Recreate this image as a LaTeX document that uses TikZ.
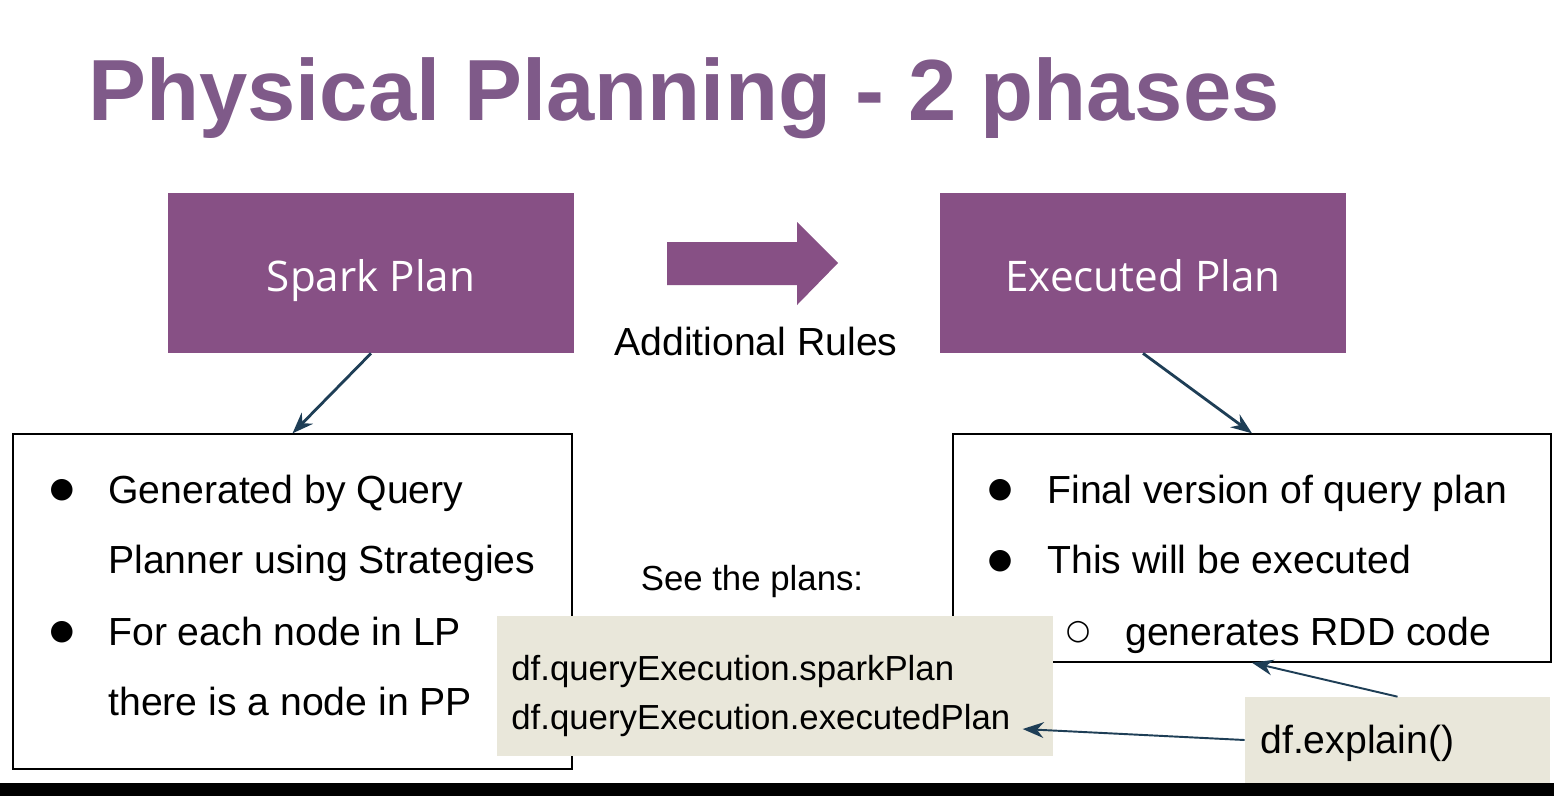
\documentclass[tikz,border=0pt]{standalone}
\usepackage{fontspec}
\setmainfont{Liberation Sans}
\newfontfamily\boxfont{Open Sans}
\newfontfamily\symfont{DejaVu Sans}
\usetikzlibrary{arrows.meta}

\definecolor{planpurple}{HTML}{875085}
\definecolor{titlepurple}{HTML}{7F5A89}
\definecolor{linkblue}{HTML}{1E3E56}
\definecolor{codebeige}{HTML}{E9E7DA}

\tikzset{
  planbox/.style={fill=planpurple, text=white, inner sep=0pt,
    minimum width=8.12cm, minimum height=3.2cm, text height=0.72cm, text depth=0pt,
    font=\boxfont\fontsize{24}{28}\selectfont},
  notebox/.style={draw=black, line width=0.8pt, fill=white, inner sep=0pt},
  codebox/.style={fill=codebeige, inner sep=0pt},
  bodytext/.style={anchor=base west, inner sep=0pt, font=\fontsize{22.3}{26}\selectfont},
  codetext/.style={anchor=base west, inner sep=0pt, font=\fontsize{19.8}{24}\selectfont},
  dot/.style={inner sep=0pt, font=\symfont\fontsize{16}{20}\selectfont},
  link/.style={-{Stealth[length=12pt,width=9pt]}, draw=linkblue, line width=1.6pt},
}

\begin{document}
\begin{tikzpicture}[x=0.02cm, y=-0.02cm]
    \useasboundingbox (0,0) rectangle (1554,796);
    \fill[white] (0,0) rectangle (1554,796);

    % Title.
    \node[anchor=base west, inner sep=0pt, text=titlepurple,
      font=\bfseries\fontsize{49.4}{56}\selectfont] (title) at (88,120) {Physical Planning - 2 phases};

    % The two phases.
    \node[planbox] (spark)    at (371 ,273) {Spark Plan};
    \node[planbox] (executed) at (1143,273) {Executed Plan};

    % Big arrow between phases.
    \fill[planpurple] (667,242) -- (797,242) -- (797,222) -- (838,263)
      -- (797,305) -- (797,285) -- (667,285) -- cycle;
    \node[bodytext, anchor=base] (rules) at (756,355) {Additional Rules};

    % Notes on the spark plan.
    \node[notebox, minimum width=11.18cm, minimum height=6.7cm] (sparknotes) at (292.5,601.5) {};
    \node[dot] (sdot1) at (62,490) {●};
    \node[dot] (sdot2) at (62,632) {●};
    \node[bodytext] (sline1) at (108,503) {Generated by Query};
    \node[bodytext] (sline2) at (108,573) {Planner using Strategies};
    \node[bodytext] (sline3) at (108,645) {For each node in LP};
    \node[bodytext] (sline4) at (108,715) {there is a node in PP};

    % Notes on the executed plan.
    \node[notebox, minimum width=11.96cm, minimum height=4.56cm] (execnotes) at (1252,548) {};
    \node[dot] (edot1) at (1000,490) {●};
    \node[dot] (edot2) at (1000,561) {●};
    \node[dot] (edot3) at (1078,632) {○};
    \node[bodytext] (eline1) at (1047,503) {Final version of query plan};
    \node[bodytext] (eline2) at (1047,573) {This will be executed};
    \node[bodytext] (eline3) at (1125,645) {generates RDD code};

    % Arrows from phases to notes.
    \draw[link] (spark.south) -- (sparknotes.north);
    \draw[link] (executed.south) -- (execnotes.north);

    % How to see the plans.
    \node[codetext, anchor=base] (seeplans) at (752,590) {See the plans:};
    \node[codebox, minimum width=11.12cm, minimum height=2.8cm] (codebox) at (775,686) {};
    \node[codetext] (sparkline) at (511,680) {df.queryExecution.sparkPlan};
    \node[codetext] (execline)  at (511,729) {df.queryExecution.executedPlan};

    \node[codebox, minimum width=6.1cm, minimum height=1.72cm] (explainbox) at (1397.5,740) {};
    \node[bodytext] (explain) at (1260,753) {df.explain()};

    % Arrows from explain.
    \draw[link, line width=1.1pt] (explainbox.north) -- (execnotes.south);
    \draw[link, line width=1.1pt] (explainbox.west) -- ([xshift=0.24cm]execline.base east);

    % Bottom bar.
    \fill[black] (0,783) rectangle (1554,796);
\end{tikzpicture}
\end{document}
